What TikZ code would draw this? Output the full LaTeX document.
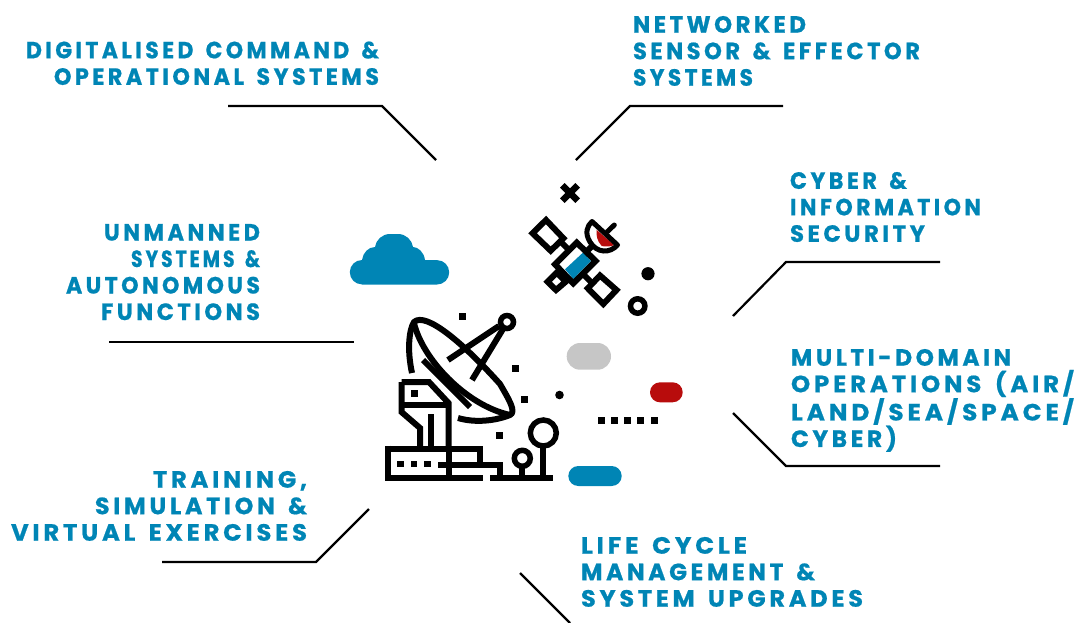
\documentclass[tikz,border=0pt]{standalone}
\usepackage{fontspec}
\usepackage{graphicx}
\newfontfamily\labfont[FakeStretch=0.9,LetterSpace=14,WordSpace=1.5,BoldFeatures={FakeBold=0.7}]{Poppins}
\newcommand\fl[2]{\resizebox{#1pt}{\height}{#2}}
\definecolor{brandblue}{HTML}{0085B5}
\definecolor{brandred}{HTML}{B80C0C}
\definecolor{pillgray}{HTML}{C6C6C6}
\tikzset{
  x=1pt,y=-1pt,
  lab/.style={text=brandblue,font=\labfont\bfseries\fontsize{23.5}{26.5}\selectfont,inner sep=0pt,outer sep=0pt},
  leader/.style={draw=black,line width=2.2pt},
  ic/.style={draw=black,line width=6pt,miter limit=4},
  sat/.style={draw=black,line width=6pt,miter limit=4},
}
\begin{document}
\begin{tikzpicture}
\useasboundingbox (0,0) rectangle (1077,622);
% labels
\node[lab,align=right,anchor=north east] (t1) at (379,41.5) {\fl{353}{DIGITALISED COMMAND \&}\\\fl{325}{OPERATIONAL SYSTEMS}};
\node[lab,align=left,anchor=north west] (t2) at (633,16) {\fl{173}{NETWORKED}\\\fl{287}{SENSOR \& EFFECTOR}\\\fl{120}{SYSTEMS}};
\node[lab,align=left,anchor=north west] (t3) at (790,172) {\fl{117}{CYBER \&}\\\fl{191}{INFORMATION}\\\fl{135}{SECURITY}};
\node[lab,align=right,anchor=north east] (t4) at (260,224) {\fl{156}{UNMANNED}\\\fl{129}{SYSTEMS \&}\\\fl{194}{AUTONOMOUS}\\\fl{159}{FUNCTIONS}};
\node[lab,align=left,anchor=north west] (t5) at (791,349) {\fl{220}{MULTI-DOMAIN}\\\fl{283}{OPERATIONS (AIR/}\\\fl{283}{LAND/SEA/SPACE/}\\\fl{106}{CYBER)}};
\node[lab,align=right,anchor=north east] (t6) at (307,471) {\fl{154}{TRAINING,}\\\fl{212}{SIMULATION \&}\\\fl{296}{VIRTUAL EXERCISES}};
\node[lab,align=left,anchor=north west] (t7) at (581,537) {\fl{166}{LIFE CYCLE}\\\fl{234}{MANAGEMENT \&}\\\fl{282}{SYSTEM UPGRADES}};
% leaders
\coordinate (a1) at (228,106); \coordinate (b1) at (382,106); \coordinate (c1) at (436,160);
\coordinate (a2) at (783,106); \coordinate (b2) at (630,106); \coordinate (c2) at (576,160);
\coordinate (a3) at (940,262); \coordinate (b3) at (786,262); \coordinate (c3) at (733,316);
\coordinate (a4) at (109,342); \coordinate (c4) at (354,342);
\coordinate (a5) at (940,466); \coordinate (b5) at (786,466); \coordinate (c5) at (733,413);
\coordinate (a6) at (162,562); \coordinate (b6) at (316,562); \coordinate (c6) at (369,509);
\coordinate (a7) at (520,573); \coordinate (c7) at (570,623);
\draw[leader] (a1) -- (b1) -- (c1);
\draw[leader] (a2) -- (b2) -- (c2);
\draw[leader] (a3) -- (b3) -- (c3);
\draw[leader] (a4) -- (c4);
\draw[leader] (a5) -- (b5) -- (c5);
\draw[leader] (a6) -- (b6) -- (c6);
\draw[leader] (a7) -- (c7);
% cloud
\fill[brandblue] (362,284.5) -- (437,284.5)
  arc (90:-90:12.2) -- (425,260)
  .. controls (424,252) and (418,247) .. (413,247)
  .. controls (412,240) and (406,234) .. (398,234)
  -- (390,234) .. controls (382,234) and (376,240) .. (375,247)
  .. controls (368,247) and (363,253) .. (362,260)
  arc (-90:-270:12.2) -- cycle;
% pills
\fill[pillgray,rounded corners=13.3pt] (566.7,343) rectangle (611,369.7);
\fill[brandred,rounded corners=10pt] (650,382.3) rectangle (682.7,402.3);
\fill[brandblue,rounded corners=10pt] (568.3,466) rectangle (621.7,486);
% small marks
\foreach \x in {601.3,614.3,627.3,640.3,654.7} \fill (\x-3.3,417) rectangle (\x+3.3,423.6);
\foreach \x/\y in {462/316,515/368,524.5/399,499/435} \fill (\x-3.5,\y-3.5) rectangle (\x+3.5,\y+3.5);
\fill (559.5,395) circle (4.3);
% satellite
\fill[brandblue] (583.3,252.3) -- (591,261) -- (573.3,279) -- (565,269.3) -- cycle;
\draw[sat] (546,220) -- (563.4,238.3) -- (550.7,250.7) -- (532.6,233.3) -- cycle;
\draw[sat] (576.7,242.6) -- (595.7,261) -- (573.3,283.4) -- (555,264.3) -- cycle;
\draw[sat] (600,275.5) -- (616.5,290) -- (603.3,304) -- (587.8,288.3) -- cycle;
\draw[sat] (556.7,272.6) -- (565.7,281.7) -- (556,290) -- (547.6,281.7) -- cycle;
\draw[sat] (561,242) -- (568,249);
\draw[sat] (584,275) -- (592,283);
\draw[sat] (592,246) -- (587,251);
\fill[brandred] (596.7,230) -- (614.3,245) .. controls (611,246.5) and (606,247) .. (601.7,246) .. controls (597,241) and (596,235) .. (596.7,230) -- cycle;
\draw[draw=black,line width=5pt,line join=round] (592,221.5) -- (617.5,245) .. controls (610,253.5) and (597,253.5) .. (590,242) .. controls (584.5,233) and (587,226) .. (592,221.5) -- cycle;
\draw[draw=black,line width=5pt,line cap=round] (607.3,231.7) -- (614.3,225);
\draw[line width=6.5pt] (562.3,185.3) -- (577.7,200.7) (577.7,185.3) -- (562.3,200.7);
\fill (648,273.7) circle (6.6);
\draw[line width=5.5pt] (637.7,306) circle (7.2);
% dish
\draw[ic,line join=round] (412,373) .. controls (407,350) and (409,330) .. (414,322)
  .. controls (426,311) and (465,345) .. (500,384) .. controls (508,398) and (517,412) .. (510,415)
  .. controls (495,421) and (475,423) .. (458,418);
\draw[ic] (414,323) .. controls (422,358) and (465,405) .. (510,415);
\draw[ic] (423,360) -- (470,407);
\draw[ic] (448,360) -- (499,326);
\draw[ic] (472,380) -- (503,329);
\draw[line width=5.5pt] (507,322) circle (6.5);
% building
\draw[ic] (401.5,382) -- (429,382) -- (448.5,403) -- (448.5,447);
\draw[ic] (401.5,382) -- (401.5,412) -- (420,428) -- (420,447);
\draw[ic] (401.5,405) -- (448.5,405);
\draw[ic] (431,414) -- (431,447);
\fill (411,390) rectangle (418,397);
\draw[ic] (388,448.5) -- (480,448.5) -- (480,465) -- (500,465) -- (500,478);
\draw[ic] (388,445.5) -- (388,481);
\draw[ic] (385,478) -- (483,478);
\draw[ic] (490,478) -- (553,478);
\draw[ic] (448.5,448) -- (448.5,478);
\draw[ic] (448.5,465) -- (480,465);
\foreach \x in {400.7,414,427.3} \fill (\x-3.3,460.7) rectangle (\x+3.3,467.3);
\draw[ic] (438,465) -- (448.5,465);
% trees
\draw[line width=5.5pt] (522.3,458.3) circle (8);
\draw[ic] (522.3,466) -- (522.3,478);
\draw[line width=5.5pt] (543.3,433) circle (13);
\draw[ic] (543.3,446) -- (543.3,478);
\end{tikzpicture}
\end{document}
